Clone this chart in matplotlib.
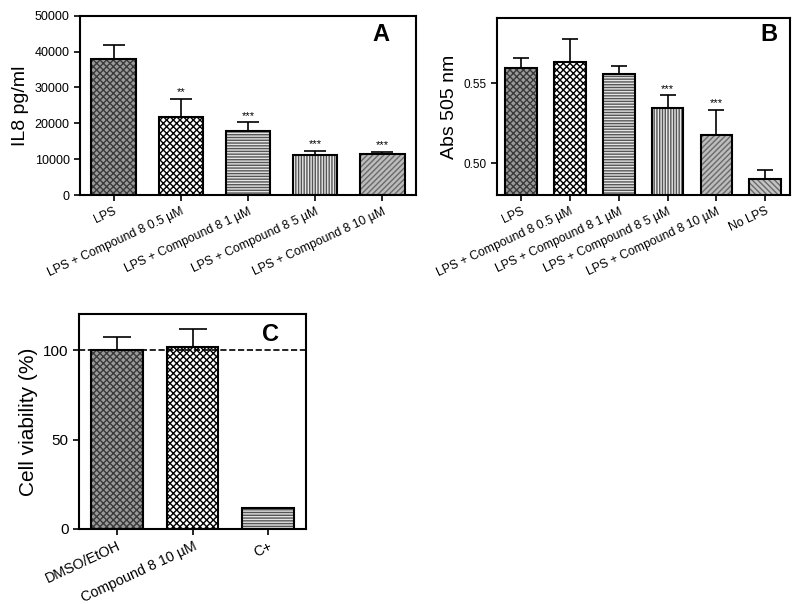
import matplotlib
matplotlib.use('Agg')
import matplotlib.pyplot as plt

plt.rcParams['font.family'] = ['Liberation Sans', 'DejaVu Sans']
plt.rcParams['hatch.linewidth'] = 1.0

# ----------------------------
# Data
# ----------------------------
labels_a = ['LPS', 'LPS + Compound 8 0.5 µM', 'LPS + Compound 8 1 µM',
            'LPS + Compound 8 5 µM', 'LPS + Compound 8 10 µM']
il8 = [37900, 21800, 18000, 11100, 11450]
il8_err = [3900, 5100, 2250, 1300, 650]
stars_a = ['', '**', '***', '***', '***']

labels_b = labels_a + ['No LPS']
abs505 = [0.5592, 0.5633, 0.5554, 0.5346, 0.5177, 0.4900]
abs505_err = [0.0062, 0.0140, 0.0054, 0.0079, 0.0156, 0.0058]
stars_b = ['', '', '', '***', '***', '']

labels_c = ['DMSO/EtOH', 'Compound 8 10 µM', 'C+']
viability = [100, 102, 11.6]
viability_err = [7.3, 10.3, 0]

# bar styles: (face, hatch, hatch colour)
styles = [
    ('#9a9a9a', 'xxxxx', '#3a3a3a'),
    ('#ffffff', 'xxxxx', '#000000'),
    ('#e4e4e4', '------', '#555555'),
    ('#e8e8e8', '||||||', '#555555'),
    ('#bcbcbc', '//////', '#6a6a6a'),
    ('#c4c4c4', '\\\\\\\\\\\\', '#6a6a6a'),
]


def draw_panel(ax, labels, values, errs, stars, letter, letter_pos, width,
               capsize, star_off, tick_fs, rot_fs):
    x = list(range(len(values)))
    ax.errorbar(x, values, yerr=[[0] * len(values), errs], fmt='none',
                ecolor='black', elinewidth=1.2, capsize=capsize, capthick=1.2,
                zorder=1)
    for i, v in enumerate(values):
        face, hatch, hcol = styles[i]
        ax.bar(i, v, width, color=face, hatch=hatch, edgecolor=hcol,
               linewidth=0, zorder=2)
        ax.bar(i, v, width, fill=False, edgecolor='black', linewidth=1.5,
               zorder=3)
        if stars[i]:
            ax.text(i, v + errs[i] + star_off, stars[i], ha='center',
                    va='bottom', fontsize=8)
    ax.set_xlim(-0.5, len(values) - 0.5)
    ax.set_xticks(x)
    ax.set_xticklabels(labels, rotation=25, ha='right',
                       rotation_mode='anchor')
    ax.tick_params(axis='both', direction='out', width=1.2, length=4,
                   labelsize=tick_fs)
    ax.tick_params(axis='x', labelsize=rot_fs)
    for s in ax.spines.values():
        s.set_linewidth(1.5)
    ax.text(letter_pos[0], letter_pos[1], letter, transform=ax.transAxes,
            ha='right', va='top', fontsize=17, fontweight='bold')


fig = plt.figure(figsize=(8, 6.04), dpi=100)

ax_a = fig.add_axes([0.100, 0.677, 0.420, 0.297])
draw_panel(ax_a, labels_a, il8, il8_err, stars_a, 'A', (0.92, 0.96),
           0.66, 8, 400, 9, 8.8)
ax_a.set_ylim(0, 50000)
ax_a.set_yticks([0, 10000, 20000, 30000, 40000, 50000])
ax_a.set_ylabel('IL8 pg/ml', fontsize=14)

ax_b = fig.add_axes([0.621, 0.677, 0.366, 0.293])
draw_panel(ax_b, labels_b, abs505, abs505_err, stars_b, 'B', (0.96, 0.97),
           0.65, 6, 0.0008, 8.5, 8.8)
ax_b.set_ylim(0.48, 0.5906)
ax_b.set_yticks([0.50, 0.55])
ax_b.set_yticklabels(['0.50', '0.55'])
ax_b.set_ylabel('Abs 505 nm', fontsize=14)

ax_c = fig.add_axes([0.099, 0.1247, 0.2835, 0.3553])
draw_panel(ax_c, labels_c, viability, viability_err, ['', '', ''], 'C',
           (0.88, 0.96), 0.68, 10, 1, 11, 10.3)
ax_c.axhline(100, color='black', linestyle='--', linewidth=1.2, zorder=4)
ax_c.set_ylim(0, 120.4)
ax_c.set_yticks([0, 50, 100])
ax_c.set_ylabel('Cell viability (%)', fontsize=15)

fig.savefig('out.png', dpi=100)
